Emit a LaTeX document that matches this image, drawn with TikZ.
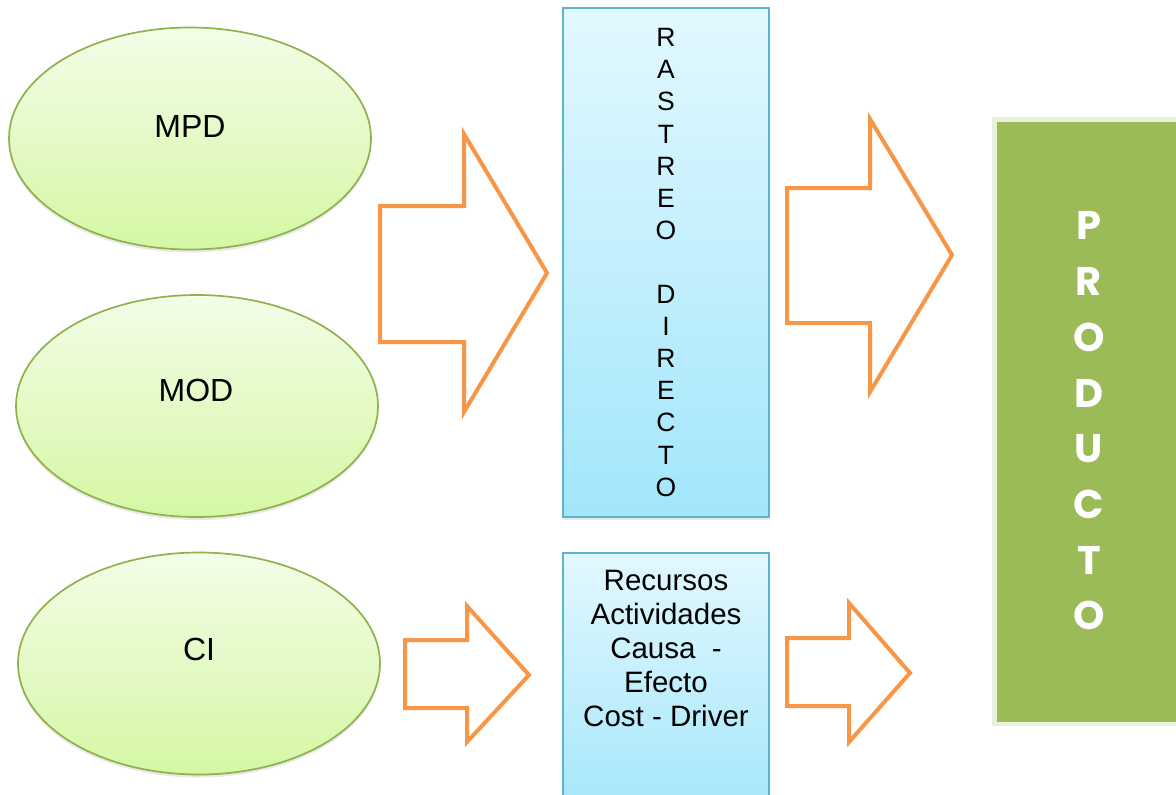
\documentclass[tikz,border=0pt]{standalone}
\usepackage{fontspec}
\setmainfont{Liberation Sans}
\newfontfamily\prodfont{Poppins}
\usetikzlibrary{shapes.geometric,shadows,calc}
\definecolor{ellTop}{HTML}{F3FDE8}
\definecolor{ellBot}{HTML}{D5F7A4}
\definecolor{ellLine}{HTML}{8FB24C}
\definecolor{boxTop}{HTML}{E2F8FE}
\definecolor{boxBot}{HTML}{A2E6FB}
\definecolor{boxLine}{HTML}{5BB3CF}
\definecolor{arrOrange}{HTML}{F79646}
\definecolor{prodGreen}{HTML}{9BBB59}
\definecolor{prodLine}{HTML}{EAF0DC}
\newcommand\myblockarrow[8]{%
  \draw[arrowline] (#1,#2) -- (#4,#2) -- (#4,#5) -- (#7,#8) -- (#4,#6) -- (#4,#3) -- (#1,#3) -- cycle;}
\tikzset{
  ell/.style={ellipse, draw=ellLine, line width=1.7pt, top color=ellTop, bottom color=ellBot,
    minimum width=362pt, minimum height=222pt, inner sep=0pt,
    drop shadow={shadow xshift=0pt, shadow yshift=-3pt, opacity=0.18}},
  elltext/.style={font=\fontsize{32}{38}\selectfont, text=black},
  bluebox/.style={rectangle, draw=boxLine, line width=1.5pt, top color=boxTop, bottom color=boxBot,
    minimum width=206pt, inner sep=0pt,
    drop shadow={shadow xshift=0pt, shadow yshift=-3pt, opacity=0.18}},
  arrowline/.style={draw=arrOrange, line width=4pt, miter limit=20},
}
\begin{document}
\begin{tikzpicture}[x=1pt,y=-1pt]
\useasboundingbox (0,0) rectangle (1176,795);
\clip (0,0) rectangle (1176,795);
\fill[white] (0,0) rectangle (1176,795);

% ellipses
\node[ell] (mpd) at (190,138.5) {};
\node[elltext] (mpdt) at (190,126) {MPD};
\node[ell] (mod) at (197,406) {};
\node[elltext] (modt) at (196,390) {MOD};
\node[ell] (ci) at (199,663.5) {};
\node[elltext] (cit) at (199,649) {CI};

% blue boxes
\node[bluebox, minimum height=509pt, align=center,
      font=\fontsize{26.5}{32.1}\selectfont] (rastreo) at (666,262.5)
  {R\\A\\S\\T\\R\\E\\O\\~\\D\\I\\R\\E\\C\\T\\O};
\node[bluebox, minimum height=270pt] (abc) at (666,688) {};
\node[align=center, font=\fontsize{29.5}{34}\selectfont] (abct) at (666,648)
  {Recursos\\Actividades\\Causa\ \ -\\Efecto\\Cost - Driver};

% product box
\fill[prodGreen] (994.5,119.5) rectangle (1190,724);
\draw[prodLine, line width=4.5pt] (1190,119.5) -- (994.5,119.5) -- (994.5,724) -- (1190,724);
\node[align=center, text=white, font=\prodfont\bfseries\fontsize{40}{55.7}\selectfont] (prod) at (1089,421)
  {P\\R\\O\\D\\U\\C\\T\\O};

% block arrows
\myblockarrow{380}{206}{342}{464}{134}{412}{547}{273}
\myblockarrow{787}{188}{323}{870}{119}{392}{952}{255}
\myblockarrow{405}{640}{708}{467}{606}{742}{529}{675}
\myblockarrow{787}{638}{706}{849}{603}{742}{910}{673}
\end{tikzpicture}
\end{document}
